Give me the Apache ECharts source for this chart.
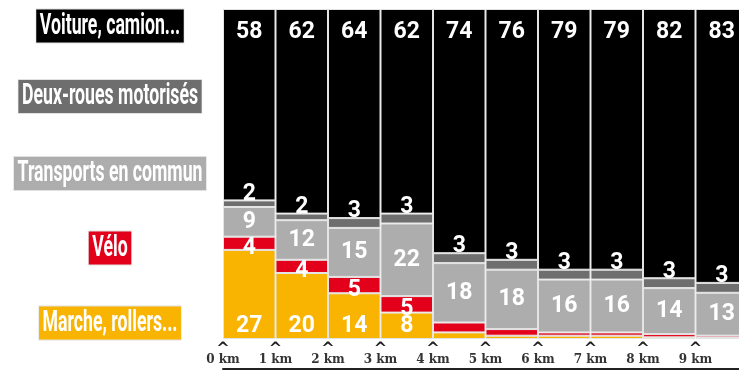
<!DOCTYPE html>
<html><head><meta charset="utf-8">
<script src="https://cdn.jsdelivr.net/npm/echarts@6/dist/echarts.min.js"></script>
<style>html,body{margin:0;padding:0;background:#fff}#c{width:739px;height:378px}</style>
</head><body><div id="c"></div>
<script>
const categories = ['0-1 km','1-2 km','2-3 km','3-4 km','4-5 km','5-6 km','6-7 km','7-8 km','8-9 km','9-10 km'];
const tickLabels = ['0','1','2','3','4','5','6','7','8','9'];
const seriesNames = ['Marche, rollers...','Vélo','Transports en commun','Deux-roues motorisés','Voiture, camion...'];
const marche   = [27, 20, 14, 8, 2, 1, 1, 1, 0.5, 0.3];
const velo     = [4, 4, 5, 5, 3, 2, 1, 1, 1, 0.7];
const transports = [9, 12, 15, 22, 18, 18, 16, 16, 14, 13];
const deuxRoues = [2, 2, 3, 3, 3, 3, 3, 3, 3, 3];
const voiture  = [58, 62, 64, 62, 74, 76, 79, 79, 82, 83];

const raw = [marche, velo, transports, deuxRoues, voiture];
const colors = ['#f8b400','#e2001a','#adadad','#6e6e6e','#000000'];
const totals = categories.map((_, i) => raw.reduce((s, a) => s + a[i], 0));
const condensed = '"Roboto",sans-serif';

const labelCfg = [
  {position:'insideBottom', distance:1, min:4},
  {position:'inside', offset:[0,5], min:4},
  {position:'inside', min:0},
  {position:'top', distance:-5, min:0},
  {position:'insideTop', distance:12, min:0}
];

const series = raw.map((arr, si) => ({
  name: seriesNames[si],
  type: 'bar',
  stack: 'all',
  barCategoryGap: 0,
  itemStyle: {color: colors[si], borderColor: '#e4e4e4', borderWidth: 1},
  label: {
    show: true,
    position: labelCfg[si].position,
    distance: labelCfg[si].distance,
    offset: labelCfg[si].offset,
    color: '#fff',
    fontFamily: condensed,
    fontWeight: 'bold',
    fontSize: 23,
    formatter: p => String(arr[p.dataIndex])
  },
  data: arr.map((v, i) => ({
    value: v / totals[i] * 100,
    label: {show: v >= labelCfg[si].min}
  }))
}));

const legendY = [26, 96.5, 173.5, 248, 323].reverse();
const graphic = seriesNames.map((n, si) => ({
  type: 'text',
  x: 110, y: legendY[si],
  scaleX: 0.59,
  style: {
    text: n,
    fill: '#fff',
    font: 'bold 30px ' + condensed,
    textAlign: 'center',
    textVerticalAlign: 'middle',
    backgroundColor: colors[si],
    padding: [2, 6, 1, 6],
    borderColor: '#e0e0e0',
    borderWidth: 1
  }
}));

const chart = echarts.init(document.getElementById('c'));
chart.setOption({
  animation: false,
  grid: {left: 223, top: 9, width: 525, height: 330, outerBoundsMode: 'none', containLabel: false},
  xAxis: [
    {type: 'category', data: categories, axisLine: {show: false}, axisTick: {show: false}, axisLabel: {show: false}},
    {type: 'value', min: 0, max: 10, interval: 1, position: 'bottom', z: 10,
      axisLine: {show: false}, axisTick: {show: false}, splitLine: {show: false},
      axisLabel: {
        margin: 2,
        hideOverlap: false,
        formatter: v => tickLabels[v] !== undefined ? '{c|^}\n{t|' + tickLabels[v] + ' km}' : '',
        rich: {
          c: {fontSize: 16, fontWeight: 'bold', color: '#222', lineHeight: 12, fontFamily: 'DejaVu Sans', padding: [4, 0, 0, 0]},
          t: {fontSize: 12, fontWeight: 'bold', color: '#333', lineHeight: 13, fontFamily: '"DejaVu Serif",serif'}
        }
      }},
    {type: 'value', min: 0, max: 10, position: 'bottom', offset: 30,
      axisLine: {show: true, lineStyle: {color: '#222', width: 2}},
      axisTick: {show: false}, axisLabel: {show: false}, splitLine: {show: false}}
  ],
  yAxis: {type: 'value', min: 0, max: 100, show: false},
  series: series,
  graphic: graphic
});
</script></body></html>
